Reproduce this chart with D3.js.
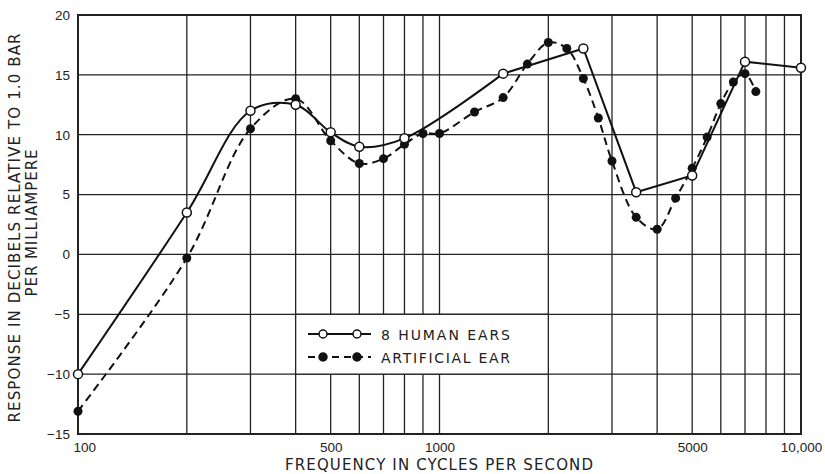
<!DOCTYPE html>
<html>
<head>
<meta charset="utf-8">
<script src="https://cdn.jsdelivr.net/npm/d3@7"></script>
<style>
  body { margin: 0; background: #fff; }
  svg { display: block; font-family: "DejaVu Sans", sans-serif; }
  .grid line { stroke: #222; stroke-width: 1.3; }
  .tick text { font-size: 13.5px; fill: #222; }
</style>
</head>
<body>
<div class="chart"></div>
<script>
// human ears (open circles, solid)
var humanFreq = [100, 200, 300, 400, 500, 600, 800, 1500, 2500, 3500, 5000, 7000, 10000];
var humanDb   = [-10, 3.5, 12, 12.5, 10.2, 9.0, 9.7, 15.1, 17.2, 5.2, 6.6, 16.1, 15.6];

// artificial ear (filled, dashed)
var artFreq = [100, 200, 300, 400, 500, 600, 700, 800, 900, 1000, 1250, 1500, 1750, 2000,
               2250, 2500, 2750, 3000, 3500, 4000, 4500, 5000, 5500, 6000, 6500, 7000, 7500];
var artDb   = [-13.1, -0.3, 10.5, 13.0, 9.5, 7.6, 8.0, 9.2, 10.1, 10.1, 11.9, 13.1, 15.9, 17.7,
               17.2, 14.7, 11.4, 7.8, 3.1, 2.1, 4.7, 7.2, 9.8, 12.6, 14.4, 15.1, 13.6];

var xTicks = [100, 500, 1000, 5000, 10000];
var xTickLabels = ["100", "500", "1000", "5000", "10,000"];
var yTicks = [-15, -10, -5, 0, 5, 10, 15, 20];
var xGrid = [100, 200, 300, 400, 500, 600, 700, 800, 900, 1000,
             2000, 3000, 4000, 5000, 6000, 7000, 8000, 9000, 10000];

var width = 825, height = 474;
var margin = {top: 15, right: 24, bottom: 40, left: 78};

var x = d3.scaleLog().domain([100, 10000]).range([margin.left, width - margin.right]);
var y = d3.scaleLinear().domain([-15, 20]).range([height - margin.bottom, margin.top]);

var svg = d3.select(".chart").append("svg")
    .attr("width", width)
    .attr("height", height);

// grid
var grid = svg.append("g").attr("class", "grid");
grid.selectAll(".v").data(xGrid).enter().append("line")
    .attr("x1", d => x(d)).attr("x2", d => x(d))
    .attr("y1", y(20)).attr("y2", y(-15));
grid.selectAll(".h").data(yTicks).enter().append("line")
    .attr("x1", x(100)).attr("x2", x(10000))
    .attr("y1", d => y(d)).attr("y2", d => y(d));

// frame
svg.append("rect")
    .attr("x", x(100)).attr("y", y(20))
    .attr("width", x(10000) - x(100)).attr("height", y(-15) - y(20))
    .attr("fill", "none").attr("stroke", "#222").attr("stroke-width", 2);

// axes (labels only)
var xAxis = d3.axisBottom(x).tickValues(xTicks).tickSize(0).tickPadding(8)
    .tickFormat((d, i) => xTickLabels[i]);
var gx = svg.append("g")
    .attr("transform", "translate(0," + y(-15) + ")")
    .call(xAxis);
gx.select(".domain").remove();
gx.selectAll(".tick text").filter(d => d === 100).attr("text-anchor", "start").attr("x", -5);

var yAxis = d3.axisLeft(y).tickValues(yTicks).tickSize(0).tickPadding(8);
var gy = svg.append("g")
    .attr("transform", "translate(" + x(100) + ",0)")
    .call(yAxis);
gy.select(".domain").remove();

// titles
svg.append("text")
    .attr("x", 439).attr("y", 470)
    .attr("text-anchor", "middle")
    .attr("textLength", 308).attr("lengthAdjust", "spacing")
    .style("font-size", "15px").style("fill", "#222")
    .text("FREQUENCY IN CYCLES PER SECOND");

svg.append("text")
    .attr("transform", "translate(20,228) rotate(-90)")
    .attr("text-anchor", "middle")
    .attr("textLength", 389).attr("lengthAdjust", "spacing")
    .style("font-size", "15px").style("fill", "#222")
    .text("RESPONSE IN DECIBELS RELATIVE TO 1.0 BAR");
svg.append("text")
    .attr("transform", "translate(37,223) rotate(-90)")
    .attr("text-anchor", "middle")
    .attr("textLength", 147).attr("lengthAdjust", "spacing")
    .style("font-size", "15px").style("fill", "#222")
    .text("PER MILLIAMPERE");

// curves
var human = humanFreq.map((f, i) => ({f: f, v: humanDb[i]}));
var art = artFreq.map((f, i) => ({f: f, v: artDb[i]}));

var smooth = d3.line().x(d => x(d.f)).y(d => y(d.v)).curve(d3.curveCatmullRom.alpha(0.5));
var straight = d3.line().x(d => x(d.f)).y(d => y(d.v));

// human curve is drawn smooth at the low end, straight segments above 1500
svg.append("path")
    .attr("d", smooth(human.slice(0, 8)))
    .attr("fill", "none").attr("stroke", "#111").attr("stroke-width", 2);
svg.append("path")
    .attr("d", straight(human.slice(7)))
    .attr("fill", "none").attr("stroke", "#111").attr("stroke-width", 2);

svg.append("path")
    .attr("d", smooth(art))
    .attr("fill", "none").attr("stroke", "#111").attr("stroke-width", 2)
    .attr("stroke-dasharray", "8,5");

svg.selectAll(".art").data(art).enter().append("circle")
    .attr("cx", d => x(d.f)).attr("cy", d => y(d.v)).attr("r", 4.5)
    .attr("fill", "#111");

svg.selectAll(".hum").data(human).enter().append("circle")
    .attr("cx", d => x(d.f)).attr("cy", d => y(d.v)).attr("r", 4.5)
    .attr("fill", "#fff").attr("stroke", "#111").attr("stroke-width", 1.5);

// legend box sits on the grid cell 400-2000 / -5..-10
svg.append("rect")
    .attr("x", x(400)).attr("y", y(-5))
    .attr("width", x(2000) - x(400)).attr("height", y(-10) - y(-5))
    .attr("fill", "#fff").attr("stroke", "#222").attr("stroke-width", 1.3);

var legend = [
  {name: "8 HUMAN EARS", fill: "#fff", dash: null, yy: 334},
  {name: "ARTIFICIAL EAR", fill: "#111", dash: "7,5", yy: 357}
];
var lg = svg.selectAll(".lg").data(legend).enter().append("g");
lg.append("line")
    .attr("x1", 308).attr("x2", 371)
    .attr("y1", d => d.yy).attr("y2", d => d.yy)
    .attr("stroke", "#111").attr("stroke-width", 2)
    .attr("stroke-dasharray", d => d.dash);
[323, 357].forEach(function(cx) {
  lg.append("circle")
      .attr("cx", cx).attr("cy", d => d.yy).attr("r", 4)
      .attr("fill", d => d.fill).attr("stroke", "#111").attr("stroke-width", 1.5);
});
lg.append("text")
    .attr("x", 381).attr("y", d => d.yy + 5.5)
    .attr("textLength", 129).attr("lengthAdjust", "spacing")
    .style("font-size", "14px").style("fill", "#222")
    .text(d => d.name);
</script>
</body>
</html>
